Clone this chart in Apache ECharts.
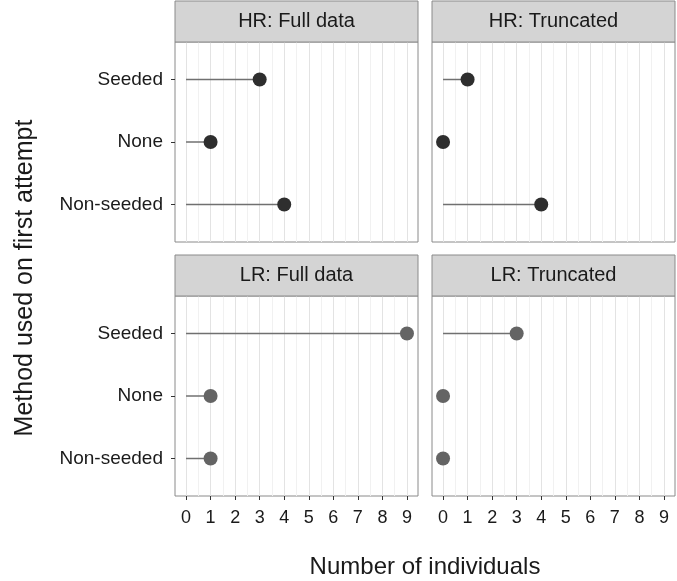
<!DOCTYPE html>
<html>
<head>
<meta charset="utf-8">
<script src="https://cdn.jsdelivr.net/npm/echarts@6/dist/echarts.min.js"></script>
<style>
    html, body { margin: 0; padding: 0; background: #fff; }
    #chart { width: 677px; height: 581px; }
</style>
</head>
<body>
<div id="chart"></div>
<script>
    // methods, listed bottom to top as in the figure
    const methods = ['Non-seeded', 'None', 'Seeded'];
    const panelTitles = ['HR: Full data', 'HR: Truncated', 'LR: Full data', 'LR: Truncated'];
    const hrFull = [4, 1, 3];
    const hrTruncated = [4, 0, 1];
    const lrFull = [1, 1, 9];
    const lrTruncated = [0, 0, 3];
    const xTicks = [0, 1, 2, 3, 4, 5, 6, 7, 8, 9];
    const xMinor = [0.5, 1.5, 2.5, 3.5, 4.5, 5.5, 6.5, 7.5, 8.5];
</script>
<script>
(function () {
    const el = document.getElementById('chart');
    const chart = echarts.init(el);
    const font = '"Liberation Sans", Arial, sans-serif';

    const panelValues = [hrFull, hrTruncated, lrFull, lrTruncated];
    const dotColors = ['#2e2e2e', '#2e2e2e', '#646464', '#646464'];

    /*layout*/
    const colLeft = [175, 432];
    const rowTop = [42, 296];
    const panelW = 243;
    const panelH = 200;
    const stripH = 41;

    const grids = [];
    const xAxes = [];
    const yAxes = [];
    const series = [];
    const graphics = [];

    panelValues.forEach(function (values, i) {
        const col = i % 2;
        const row = Math.floor(i / 2);
        const isBottom = row === 1;
        const isLeft = col === 0;

        grids.push({
            left: colLeft[col],
            top: rowTop[row],
            width: panelW,
            height: panelH,
            show: true,
            borderColor: '#8a8a8a',
            borderWidth: 1,
            backgroundColor: '#fff',
            z: 0
        });

        xAxes.push({
            type: 'value',
            gridIndex: i,
            position: 'bottom',
            min: -0.45,
            max: 9.45,
            axisLine: { show: false, onZero: false },
            axisTick: {
                show: isBottom,
                customValues: xTicks,
                length: 4,
                lineStyle: { color: '#333', width: 1 }
            },
            axisLabel: {
                show: isBottom,
                customValues: xTicks,
                color: '#1a1a1a',
                fontSize: 18,
                fontFamily: font,
                margin: 13
            },
            splitLine: { show: true, lineStyle: { color: '#e3e3e3', width: 1 } }
        });

        yAxes.push({
            type: 'value',
            gridIndex: i,
            position: 'left',
            min: 0.4,
            max: 3.6,
            axisLine: { show: false, onZero: false },
            axisTick: {
                show: isLeft,
                customValues: [1, 2, 3],
                length: 4,
                lineStyle: { color: '#333', width: 1 }
            },
            axisLabel: {
                show: isLeft,
                customValues: [1, 2, 3],
                formatter: function (v) { return methods[Math.round(v) - 1]; },
                color: '#1a1a1a',
                fontSize: 19,
                fontFamily: font,
                margin: 12
            },
            splitLine: { show: false }
        });

        series.push({
            type: 'custom',
            xAxisIndex: i,
            yAxisIndex: i,
            data: values.map(function (v, k) { return [v, k + 1]; }),
            renderItem: renderLollipop(dotColors[i]),
            z: 5
        });

        // facet strip
        graphics.push({
            type: 'rect',
            shape: { x: colLeft[col], y: rowTop[row] - stripH, width: panelW, height: stripH },
            style: { fill: '#d4d4d4', stroke: '#8a8a8a', lineWidth: 1 },
            z: 10
        });
        graphics.push({
            type: 'text',
            x: colLeft[col] + panelW / 2,
            y: rowTop[row] - stripH / 2,
            style: {
                text: panelTitles[i],
                fill: '#1a1a1a',
                font: '20px ' + font,
                align: 'center',
                verticalAlign: 'middle'
            },
            z: 11
        });
    });

    // minor vertical grid lines
    panelValues.forEach(function (values, i) {
        xAxes.push({
            type: 'value',
            gridIndex: i,
            position: 'bottom',
            min: -0.45,
            max: 9.45,
            axisLine: { show: false, onZero: false },
            axisTick: { show: false, customValues: xMinor },
            axisLabel: { show: false, customValues: xMinor },
            splitLine: { show: true, lineStyle: { color: '#f1f1f1', width: 1 } }
        });
    });

    graphics.push({
        type: 'text',
        x: 425,
        y: 567,
        style: {
            text: 'Number of individuals',
            fill: '#1a1a1a',
            font: '24px ' + font,
            align: 'center',
            verticalAlign: 'middle'
        }
    });
    graphics.push({
        type: 'text',
        x: 25,
        y: 278,
        rotation: Math.PI / 2,
        style: {
            text: 'Method used on first attempt',
            fill: '#1a1a1a',
            font: '25px ' + font,
            align: 'center',
            verticalAlign: 'middle'
        }
    });

    function renderLollipop(color) {
        return function (params, api) {
            const y = api.value(1);
            const start = api.coord([0, y]);
            const end = api.coord([api.value(0), y]);

            return {
                type: 'group',
                children: [
                    {
                        type: 'line',
                        shape: { x1: start[0], y1: start[1], x2: end[0], y2: end[1] },
                        style: { stroke: '#707070', lineWidth: 1.5 }
                    },
                    {
                        type: 'circle',
                        shape: { cx: end[0], cy: end[1], r: 7 },
                        style: { fill: color }
                    }
                ]
            };
        };
    }

    chart.setOption({
        animation: false,
        grid: grids,
        xAxis: xAxes,
        yAxis: yAxes,
        series: series,
        graphic: graphics
    });

    window.addEventListener('resize', function () { chart.resize(); });
})();
</script>
</body>
</html>
